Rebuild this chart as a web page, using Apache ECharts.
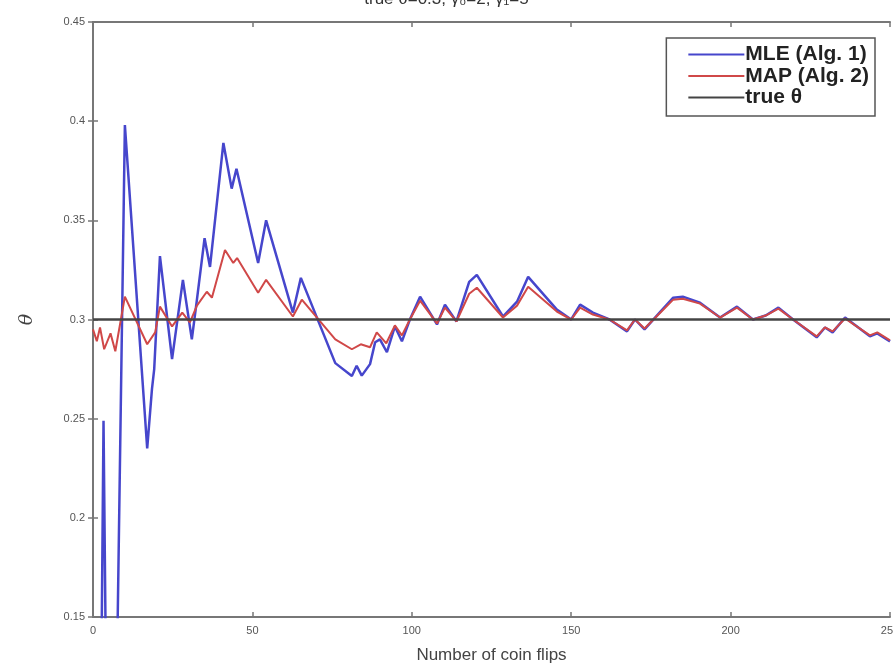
<!DOCTYPE html>
<html>
<head>
<meta charset="utf-8">
<script src="https://cdn.jsdelivr.net/npm/echarts@6/dist/echarts.min.js"></script>
<style>
  html, body { margin: 0; padding: 0; background: #fff; }
  #chart { width: 893px; height: 668px; }
</style>
</head>
<body>
<div id="chart"></div>
<script>
// values: [number of flips, theta estimate]
const mleFlips = [2.5, 3.3, 4.2, 7.3, 10, 17, 18.5, 19.2, 21, 24.8, 28.2, 31, 32.6, 35, 36.7, 40.9, 43.5, 45, 51.8, 54.3, 62.7, 65.2,
  76, 81.2, 82.7, 84.3, 86.9, 88.5, 90, 92.2, 94.7, 96.9, 99.4, 102.6, 107.9, 110.4, 114, 118, 120.4, 128.6, 133, 136.5,
  145.5, 150, 152.8, 156.8, 162, 167.5, 170, 173, 178, 182, 185, 190.4, 196.7, 202, 207, 211, 215, 219.6, 227, 229.6,
  232, 235.9, 243.7, 246, 250];
const mleTheta = [0.10, 0.249, 0.10, 0.10, 0.398, 0.235, 0.265, 0.275, 0.332, 0.28, 0.32, 0.29, 0.31, 0.341, 0.3265, 0.389, 0.366, 0.376, 0.3285, 0.35, 0.3035, 0.321,
  0.278, 0.2715, 0.2767, 0.2717, 0.2775, 0.2885, 0.29, 0.2835, 0.2965, 0.289, 0.30, 0.3115, 0.2975, 0.3075, 0.299, 0.319, 0.3225, 0.3015, 0.309, 0.3215,
  0.305, 0.30, 0.3075, 0.3035, 0.30, 0.294, 0.30, 0.295, 0.304, 0.311, 0.3115, 0.3085, 0.301, 0.3065, 0.30, 0.302, 0.306, 0.30, 0.291, 0.296,
  0.2935, 0.301, 0.2915, 0.293, 0.289];

const mapFlips = [0, 1.2, 2.2, 3.5, 5.5, 7, 10, 17, 19.5, 21, 24.8, 28, 30.4, 32.6, 35.7, 37.3, 41.4, 44, 45.2, 51.8, 54.3, 62.7, 65.5,
  76, 81.2, 84, 86.9, 89, 92, 94.7, 96.9, 99.4, 102.6, 107.9, 110.4, 114, 118, 120.4, 128.6, 133, 136.5,
  145.5, 150, 152.8, 156.8, 162, 167.5, 170, 173, 178, 182, 185, 190.4, 196.7, 202, 207, 211, 215, 219.6, 227, 229.6,
  232, 235.9, 243.7, 246, 250];
const mapTheta = [0.295, 0.289, 0.296, 0.285, 0.293, 0.284, 0.3115, 0.2875, 0.2935, 0.3065, 0.2965, 0.3035, 0.2985, 0.307, 0.314, 0.311, 0.335, 0.3285, 0.331, 0.3135, 0.32, 0.3015, 0.31,
  0.29, 0.285, 0.2875, 0.286, 0.2935, 0.288, 0.297, 0.292, 0.30, 0.3095, 0.298, 0.306, 0.299, 0.313, 0.316, 0.301, 0.307, 0.3165,
  0.304, 0.30, 0.306, 0.3025, 0.30, 0.2945, 0.30, 0.2955, 0.3035, 0.31, 0.3105, 0.308, 0.301, 0.306, 0.30, 0.302, 0.3055, 0.30, 0.2915, 0.296,
  0.294, 0.3005, 0.292, 0.2935, 0.2895];

const trueTheta = 0.3;
const xTicks = [0, 50, 100, 150, 200, 250];
const yTicks = [0.15, 0.2, 0.25, 0.3, 0.35, 0.4, 0.45];

const zip = (xs, ys) => xs.map((x, i) => [x, ys[i]]);

const chart = echarts.init(document.getElementById('chart'));
const axisLine = { show: true, lineStyle: { color: '#777', width: 2 } };
const tick = { show: true, inside: true, length: 5, lineStyle: { color: '#777', width: 1.5 } };
const label = { color: '#555', fontSize: 11, fontFamily: 'Liberation Sans' };

chart.setOption({
  animation: false,
  backgroundColor: '#fff',
  title: {
    text: 'true θ=0.3, γ₀=2, γ₁=5',
    left: 'center', top: -14,
    textStyle: { fontSize: 17, fontWeight: 'normal', color: '#333', fontFamily: 'Liberation Sans' },
  },
  grid: { left: 93, right: 3, top: 22, bottom: 51, outerBoundsMode: 'none' },
  legend: {
    orient: 'vertical', right: 18, top: 38,
    data: ['MLE (Alg. 1)', 'MAP (Alg. 2)', 'true θ'],
    icon: 'rect', itemWidth: 56, itemHeight: 2, itemGap: 0.5,
    backgroundColor: '#fff', borderColor: '#555', borderWidth: 1.5, padding: [6, 6, 8, 22],
    textStyle: { fontSize: 21, fontWeight: 'bold', color: '#222', fontFamily: 'Liberation Sans', lineHeight: 20, padding: [0, 0, 0, -4] },
  },
  xAxis: [{
    type: 'value', min: xTicks[0], max: xTicks[xTicks.length - 1], interval: 50,
    name: 'Number of coin flips', nameLocation: 'middle', nameGap: 30,
    nameTextStyle: { fontSize: 17, color: '#444', fontFamily: 'Liberation Sans' },
    axisLine, axisTick: tick, axisLabel: label, splitLine: { show: false },
  }, {
    type: 'value', position: 'top', min: 0, max: 250, interval: 50,
    axisLine, axisTick: tick, axisLabel: { show: false }, splitLine: { show: false },
  }],
  yAxis: [{
    type: 'value', min: yTicks[0], max: yTicks[yTicks.length - 1], interval: 0.05,
    name: 'θ', nameLocation: 'middle', nameGap: 56, nameRotate: 90,
    nameTextStyle: { fontSize: 19, color: '#444', fontFamily: 'DejaVu Serif', fontStyle: 'italic' },
    axisLine, axisTick: tick, axisLabel: label, splitLine: { show: false },
  }, {
    type: 'value', position: 'right', min: 0.15, max: 0.45, interval: 0.05,
    axisLine, axisTick: tick, axisLabel: { show: false }, splitLine: { show: false },
  }],
  series: [
    {
      name: 'MLE (Alg. 1)', type: 'line', data: zip(mleFlips, mleTheta),
      symbol: 'none', clip: true, color: '#4646cc',
      lineStyle: { color: '#4646cc', width: 2.5 },
    },
    {
      name: 'MAP (Alg. 2)', type: 'line', data: zip(mapFlips, mapTheta),
      symbol: 'none', clip: true, color: '#d04848',
      lineStyle: { color: '#d04848', width: 2 },
    },
    {
      name: 'true θ', type: 'line', data: [[xTicks[0], trueTheta], [xTicks[xTicks.length - 1], trueTheta]],
      symbol: 'none', color: '#444',
      lineStyle: { color: '#444', width: 2.5 },
    },
  ],
});
</script>
</body>
</html>
